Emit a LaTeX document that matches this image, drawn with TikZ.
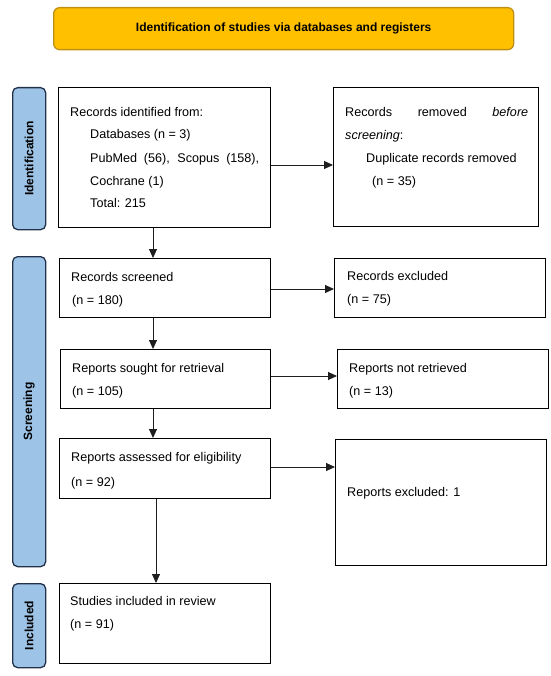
\documentclass[tikz,border=0pt]{standalone}
\usepackage{fontspec}
\setmainfont{Liberation Sans}
\usetikzlibrary{arrows.meta}
\definecolor{gold}{RGB}{255,192,0}
\definecolor{goldedge}{RGB}{190,145,20}
\definecolor{sideblue}{RGB}{157,195,230}
\definecolor{sideedge}{RGB}{35,50,75}
\definecolor{arrgray}{RGB}{30,30,30}
\tikzset{
  box/.style={draw=black, line width=1.3pt, inner sep=0pt, anchor=north west},
  side/.style={draw=sideedge, fill=sideblue, line width=1.3pt, rounded corners=5pt, inner sep=0pt, anchor=north west, minimum width=33pt},
  sidetxt/.style={rotate=90, font=\fontsize{12}{14}\selectfont\bfseries, inner sep=0pt},
  txt/.style={anchor=base west, inner sep=0pt, font=\fontsize{12.6}{15}\selectfont},
  arr/.style={draw=arrgray, line width=0.9pt, -{Triangle[length=9pt,width=8pt]}}
}
\begin{document}
\begin{tikzpicture}[x=1pt,y=1pt]
\useasboundingbox (0,0) rectangle (550,-676);
% banner
\node[box, draw=goldedge, fill=gold, rounded corners=6pt, minimum width=460pt, minimum height=42pt] (banner) at (53,-7) {};
\node[font=\fontsize{12}{14}\selectfont\bfseries, inner sep=0pt] (bannertxt) at (banner.center) {Identification of studies via databases and registers};
% side boxes
\node[side, minimum height=142pt] (sideI) at (12,-87) {};
\node[sidetxt] (sideItxt) at (sideI.center) {Identification};
\node[side, minimum height=310pt] (sideS) at (12,-256) {};
\node[sidetxt] (sideStxt) at (sideS.center) {Screening};
\node[side, minimum height=84pt] (sideC) at (12,-583) {};
\node[sidetxt] (sideCtxt) at (sideC.center) {Included};
% boxes
\node[box, minimum width=212pt, minimum height=140pt] (b1) at (58,-87) {};
\node[box, minimum width=205pt, minimum height=139pt] (rem) at (333,-87) {};
\node[box, minimum width=211pt, minimum height=59pt] (scr) at (59,-258) {};
\node[box, minimum width=211pt, minimum height=59pt] (exc) at (334,-258) {};
\node[box, minimum width=210pt, minimum height=59pt] (sought) at (60,-349) {};
\node[box, minimum width=211pt, minimum height=59pt] (notret) at (337,-349) {};
\node[box, minimum width=211pt, minimum height=60pt] (assess) at (59,-438) {};
\node[box, minimum width=211pt, minimum height=126pt] (repexc) at (335,-439) {};
\node[box, minimum width=211pt, minimum height=80pt] (incl) at (59,-583) {};
% texts
\node[txt] (t1a) at (70,-116.5) {Records identified from:};
\node[txt] (t1b) at (90,-138.5) {Databases (n = 3)};
\node[txt] (t1c) at (90,-162.5) {\makebox[169pt][s]{PubMed (56), Scopus (158),}};
\node[txt] (t1d) at (90,-185.5) {Cochrane (1)};
\node[txt] (t1e) at (90,-207.5) {Total: 215};
\node[txt] (r1a) at (345,-116.5) {\makebox[183pt][s]{Records\hfill removed\hfill \textit{before}}};
\node[txt] (r1b) at (345,-139.5) {\textit{screening}:};
\node[txt] (r1c) at (366,-162.5) {Duplicate records removed};
\node[txt] (r1d) at (372,-185.5) {(n = 35)};
\node[txt] (s1a) at (71,-281.5) {Records screened};
\node[txt] (s1b) at (72,-304.5) {(n = 180)};
\node[txt] (e1a) at (347,-280.5) {Records excluded};
\node[txt] (e1b) at (347,-303.5) {(n = 75)};
\node[txt] (g1a) at (72,-372.5) {Reports sought for retrieval};
\node[txt] (g1b) at (72,-395.5) {(n = 105)};
\node[txt] (n1a) at (349,-372.5) {Reports not retrieved};
\node[txt] (n1b) at (349,-395.5) {(n = 13)};
\node[txt] (a1a) at (71,-461.5) {Reports assessed for eligibility};
\node[txt] (a1b) at (71,-486.5) {(n = 92)};
\node[txt] (x1a) at (347,-496.5) {Reports excluded: 1};
\node[txt] (i1a) at (70,-605.5) {Studies included in review};
\node[txt] (i1b) at (70,-628.5) {(n = 91)};
% connectors
\draw[arr] (b1.east |- 0,-165) -- (rem.west |- 0,-165);
\draw[arr] (b1.south -| 153,0) -- (scr.north -| 153,0);
\draw[arr] (scr.east |- 0,-289) -- (exc.west |- 0,-289);
\draw[arr] (scr.south -| 153,0) -- (sought.north -| 153,0);
\draw[arr] (sought.east |- 0,-376) -- (notret.west |- 0,-376);
\draw[arr] (sought.south -| 153,0) -- (assess.north -| 153,0);
\draw[arr] (assess.east |- 0,-467) -- (repexc.west |- 0,-467);
\draw[arr] (assess.south -| 156,0) -- (incl.north -| 156,0);
\end{tikzpicture}
\end{document}
